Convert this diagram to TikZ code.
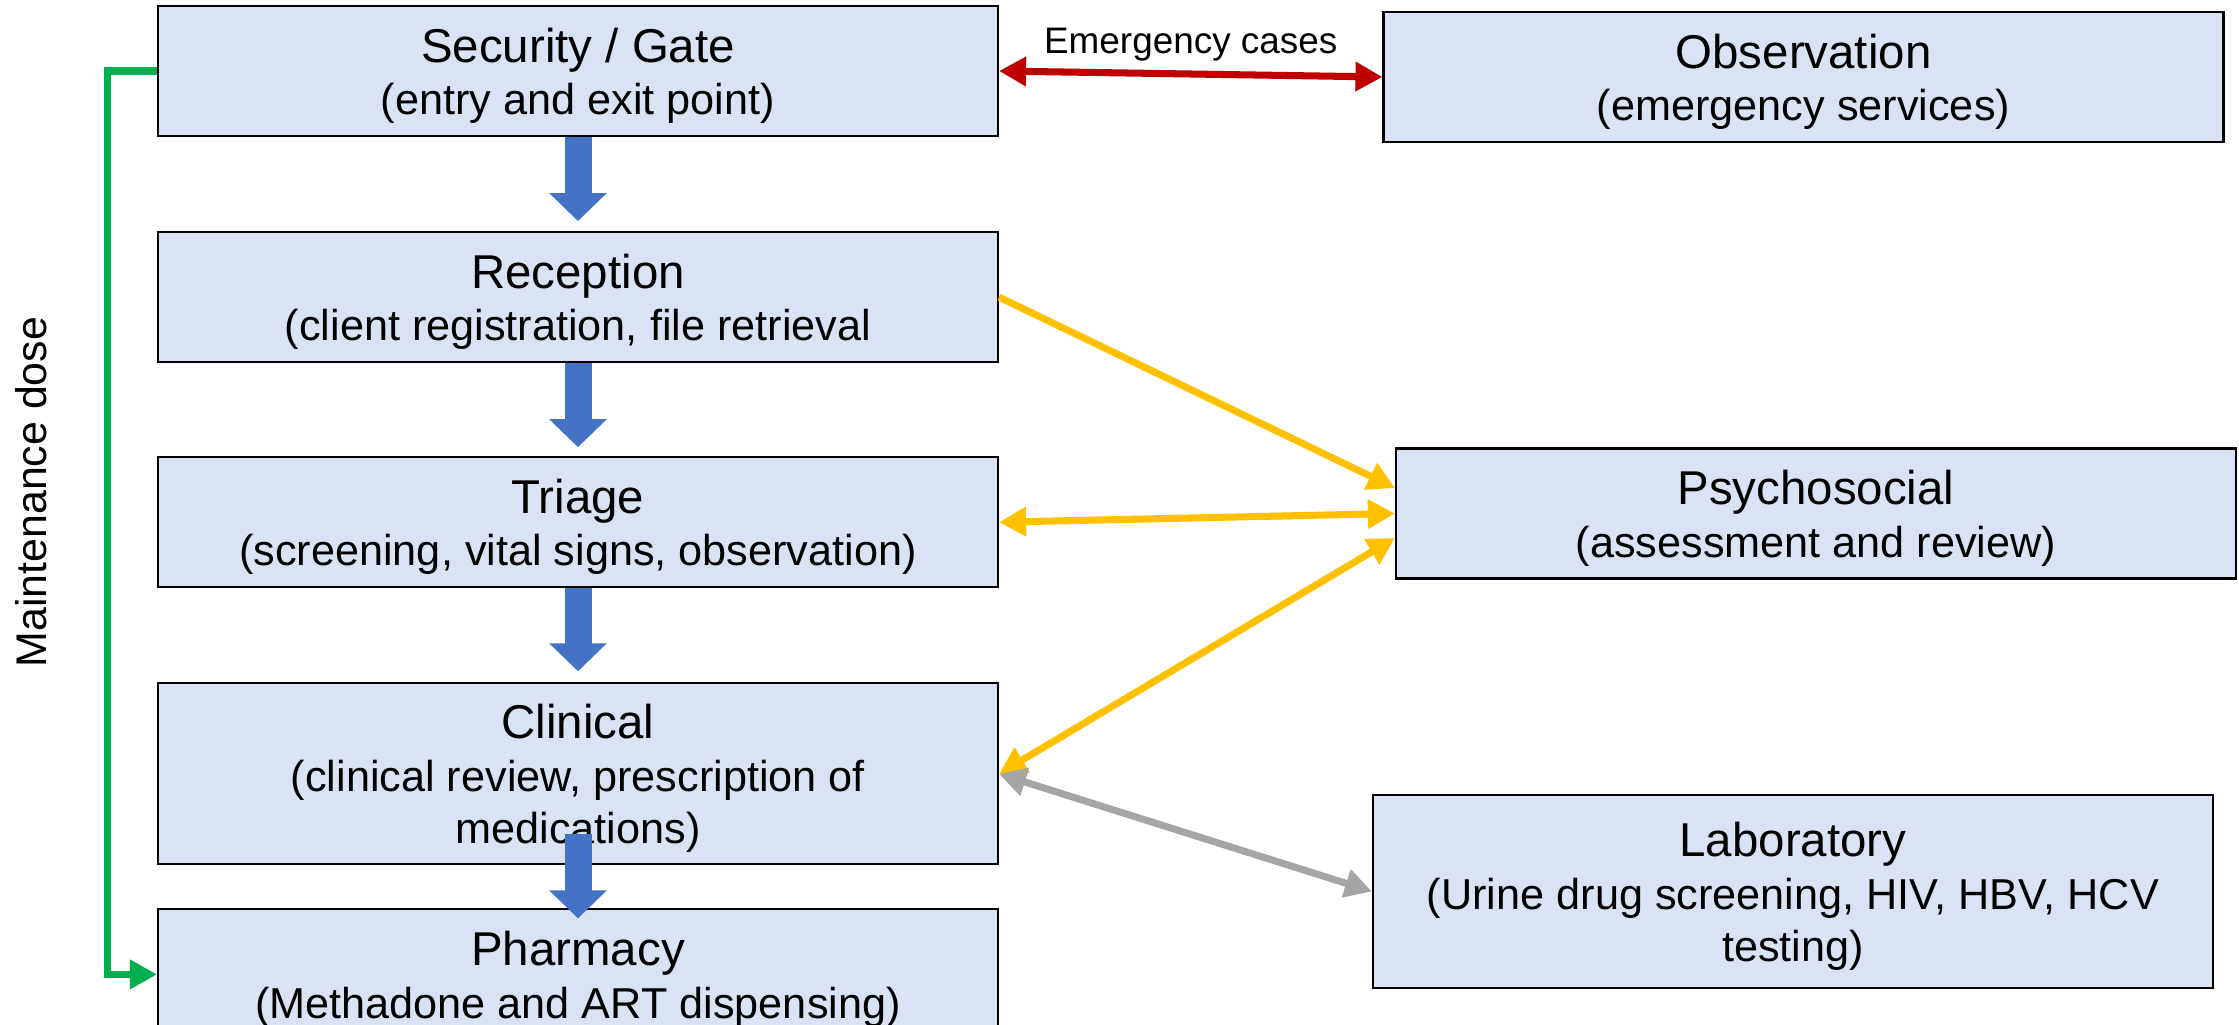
\documentclass[tikz,border=0pt]{standalone}
\usepackage{fontspec}
\setmainfont{Liberation Sans}
\definecolor{BoxFill}{RGB}{218,227,243}
\definecolor{FlowBlue}{RGB}{68,114,196}
\definecolor{EmergRed}{RGB}{192,0,0}
\definecolor{PsyGold}{RGB}{255,192,0}
\definecolor{LabGrey}{RGB}{165,165,165}
\definecolor{DoseGreen}{RGB}{0,176,80}
\usetikzlibrary{positioning, arrows.meta, calc}
\newcommand{\stagetitle}[1]{{\fontsize{13.5}{16}\selectfont\rule{0pt}{0.44cm}#1}}

\begin{document}
\begin{tikzpicture}[
    >={Triangle[width=0.28cm, length=0.27cm]},
    stage/.style={draw=black, line width=0.6pt, fill=BoxFill, minimum width=8.4cm, minimum height=1.3cm, inner sep=0pt, align=center, font=\fontsize{12.3}{14.9}\selectfont},
    flow/.style={FlowBlue, line width=0.27cm, -{Triangle[width=0.56cm, length=0.28cm]}},
    link/.style={line width=2pt, <->},
  ]
  \useasboundingbox (0,0) rectangle (22.39,-10.25);

  % main client path
  \node[stage] (sec) at (5.78,-0.71) {\stagetitle{Security / Gate}\\ (entry and exit point)};
  \node[stage, below=0.94cm of sec] (rec) {\stagetitle{Reception}\\ (client registration, file retrieval};
  \node[stage, below=0.93cm of rec] (tri) {\stagetitle{Triage}\\ (screening, vital signs, observation)};
  \node[stage, below=0.94cm of tri, minimum height=1.81cm] (cli) {\stagetitle{Clinical}\\ (clinical review, prescription of\\ medications)};
  \node[stage, below=0.43cm of cli] (pha) {\stagetitle{Pharmacy}\\ (Methadone and ART dispensing)};

  % side services
  \node[stage] (obs) at (18.035,-0.77) {\stagetitle{Observation}\\ (emergency services)};
  \node[stage] (psy) at (18.16,-5.135) {\stagetitle{Psychosocial}\\ (assessment and review)};
  \node[stage, minimum height=1.93cm] (lab) at (17.93,-8.915) {\stagetitle{Laboratory}\\ (Urine drug screening, HIV, HBV, HCV\\ testing)};

  \draw[flow, shorten >=0.1cm] (sec.south) -- (rec.north);
  \draw[flow, shorten >=0.09cm] (rec.south) -- (tri.north);
  \draw[flow, shorten >=0.11cm] (tri.south) -- (cli.north);
  \draw[flow, shorten <=-0.31cm, shorten >=-0.1cm] (cli.south) -- (pha.north);

  \draw[link, EmergRed] (sec.east) -- (obs.west)
    node[midway, yshift=0.29cm, black, font=\fontsize{10.5}{12}\selectfont] (emlbl) {Emergency cases};

  \draw[line width=2pt, ->, PsyGold] (rec.east) -- ([yshift=0.255cm]psy.west);
  \draw[link, PsyGold] (tri.east) -- (psy.west);
  \draw[link, PsyGold] (cli.east) -- ([yshift=-0.245cm]psy.west);
  \draw[link, LabGrey] (cli.east) -- (lab.west);

  \draw[line width=2pt, ->, DoseGreen] (sec.west) -- ++(-0.49,0) |- (pha.west);
  \node[rotate=90, font=\fontsize{12.2}{14}\selectfont] (dose) at (0.31,-4.92) {Maintenance dose};
\end{tikzpicture}
\end{document}
